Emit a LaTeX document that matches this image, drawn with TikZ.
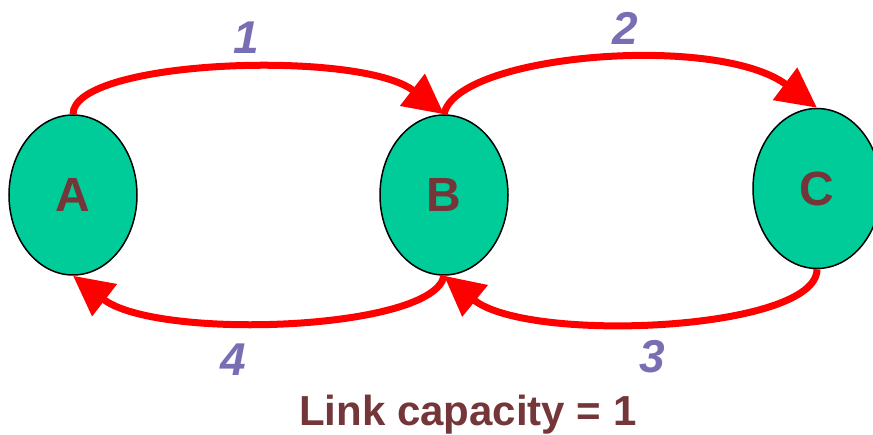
\documentclass[tikz,border=0pt]{standalone}
\usepackage{fontspec}
\setmainfont{Liberation Sans}
\usetikzlibrary{shapes.geometric,arrows.meta}
\definecolor{nodefill}{HTML}{00CC99}
\definecolor{txtbrown}{HTML}{743638}
\definecolor{lblpurple}{HTML}{786EB4}
\begin{document}
\begin{tikzpicture}[x=1pt,y=-1pt,
 station/.style={ellipse, draw=black, line width=1.5pt, fill=nodefill, minimum width=128pt, minimum height=160pt, inner sep=0pt, font=\fontsize{48}{48}\selectfont\bfseries, text=txtbrown},
 link/.style={color=red, line width=7pt, -{Triangle[length=40pt,width=39pt]}},
 num/.style={font=\fontsize{46}{46}\selectfont\bfseries\itshape, text=lblpurple, inner sep=0pt},
 caption/.style={font=\fontsize{42}{42}\selectfont\bfseries, text=txtbrown, inner sep=0pt},
]
\useasboundingbox (0,0) rectangle (873,435);
\node[station] (A) at (73,195) {A};
\node[station] (B) at (444,195) {B};
\node[station] (C) at (817,188.5) {C};
\draw[link] (A.north) .. controls +(0,-55) and +(-84,-65) .. (B.north);
\draw[link] (B.north) .. controls +(12,-60) and +(-100,-75) .. (C.north);
\draw[link] (C.south) .. controls +(0,62) and +(84,68) .. (B.south);
\draw[link] (B.south) .. controls +(-10,55) and +(84,65) .. (A.south);
\node[num] (l1) at (246,38) {1};
\node[num] (l2) at (625,28) {2};
\node[num] (l3) at (652,357) {3};
\node[num] (l4) at (233,360) {4};
\node[caption, anchor=base west] (cap) at (299,426) {Link capacity = 1};
\end{tikzpicture}
\end{document}
